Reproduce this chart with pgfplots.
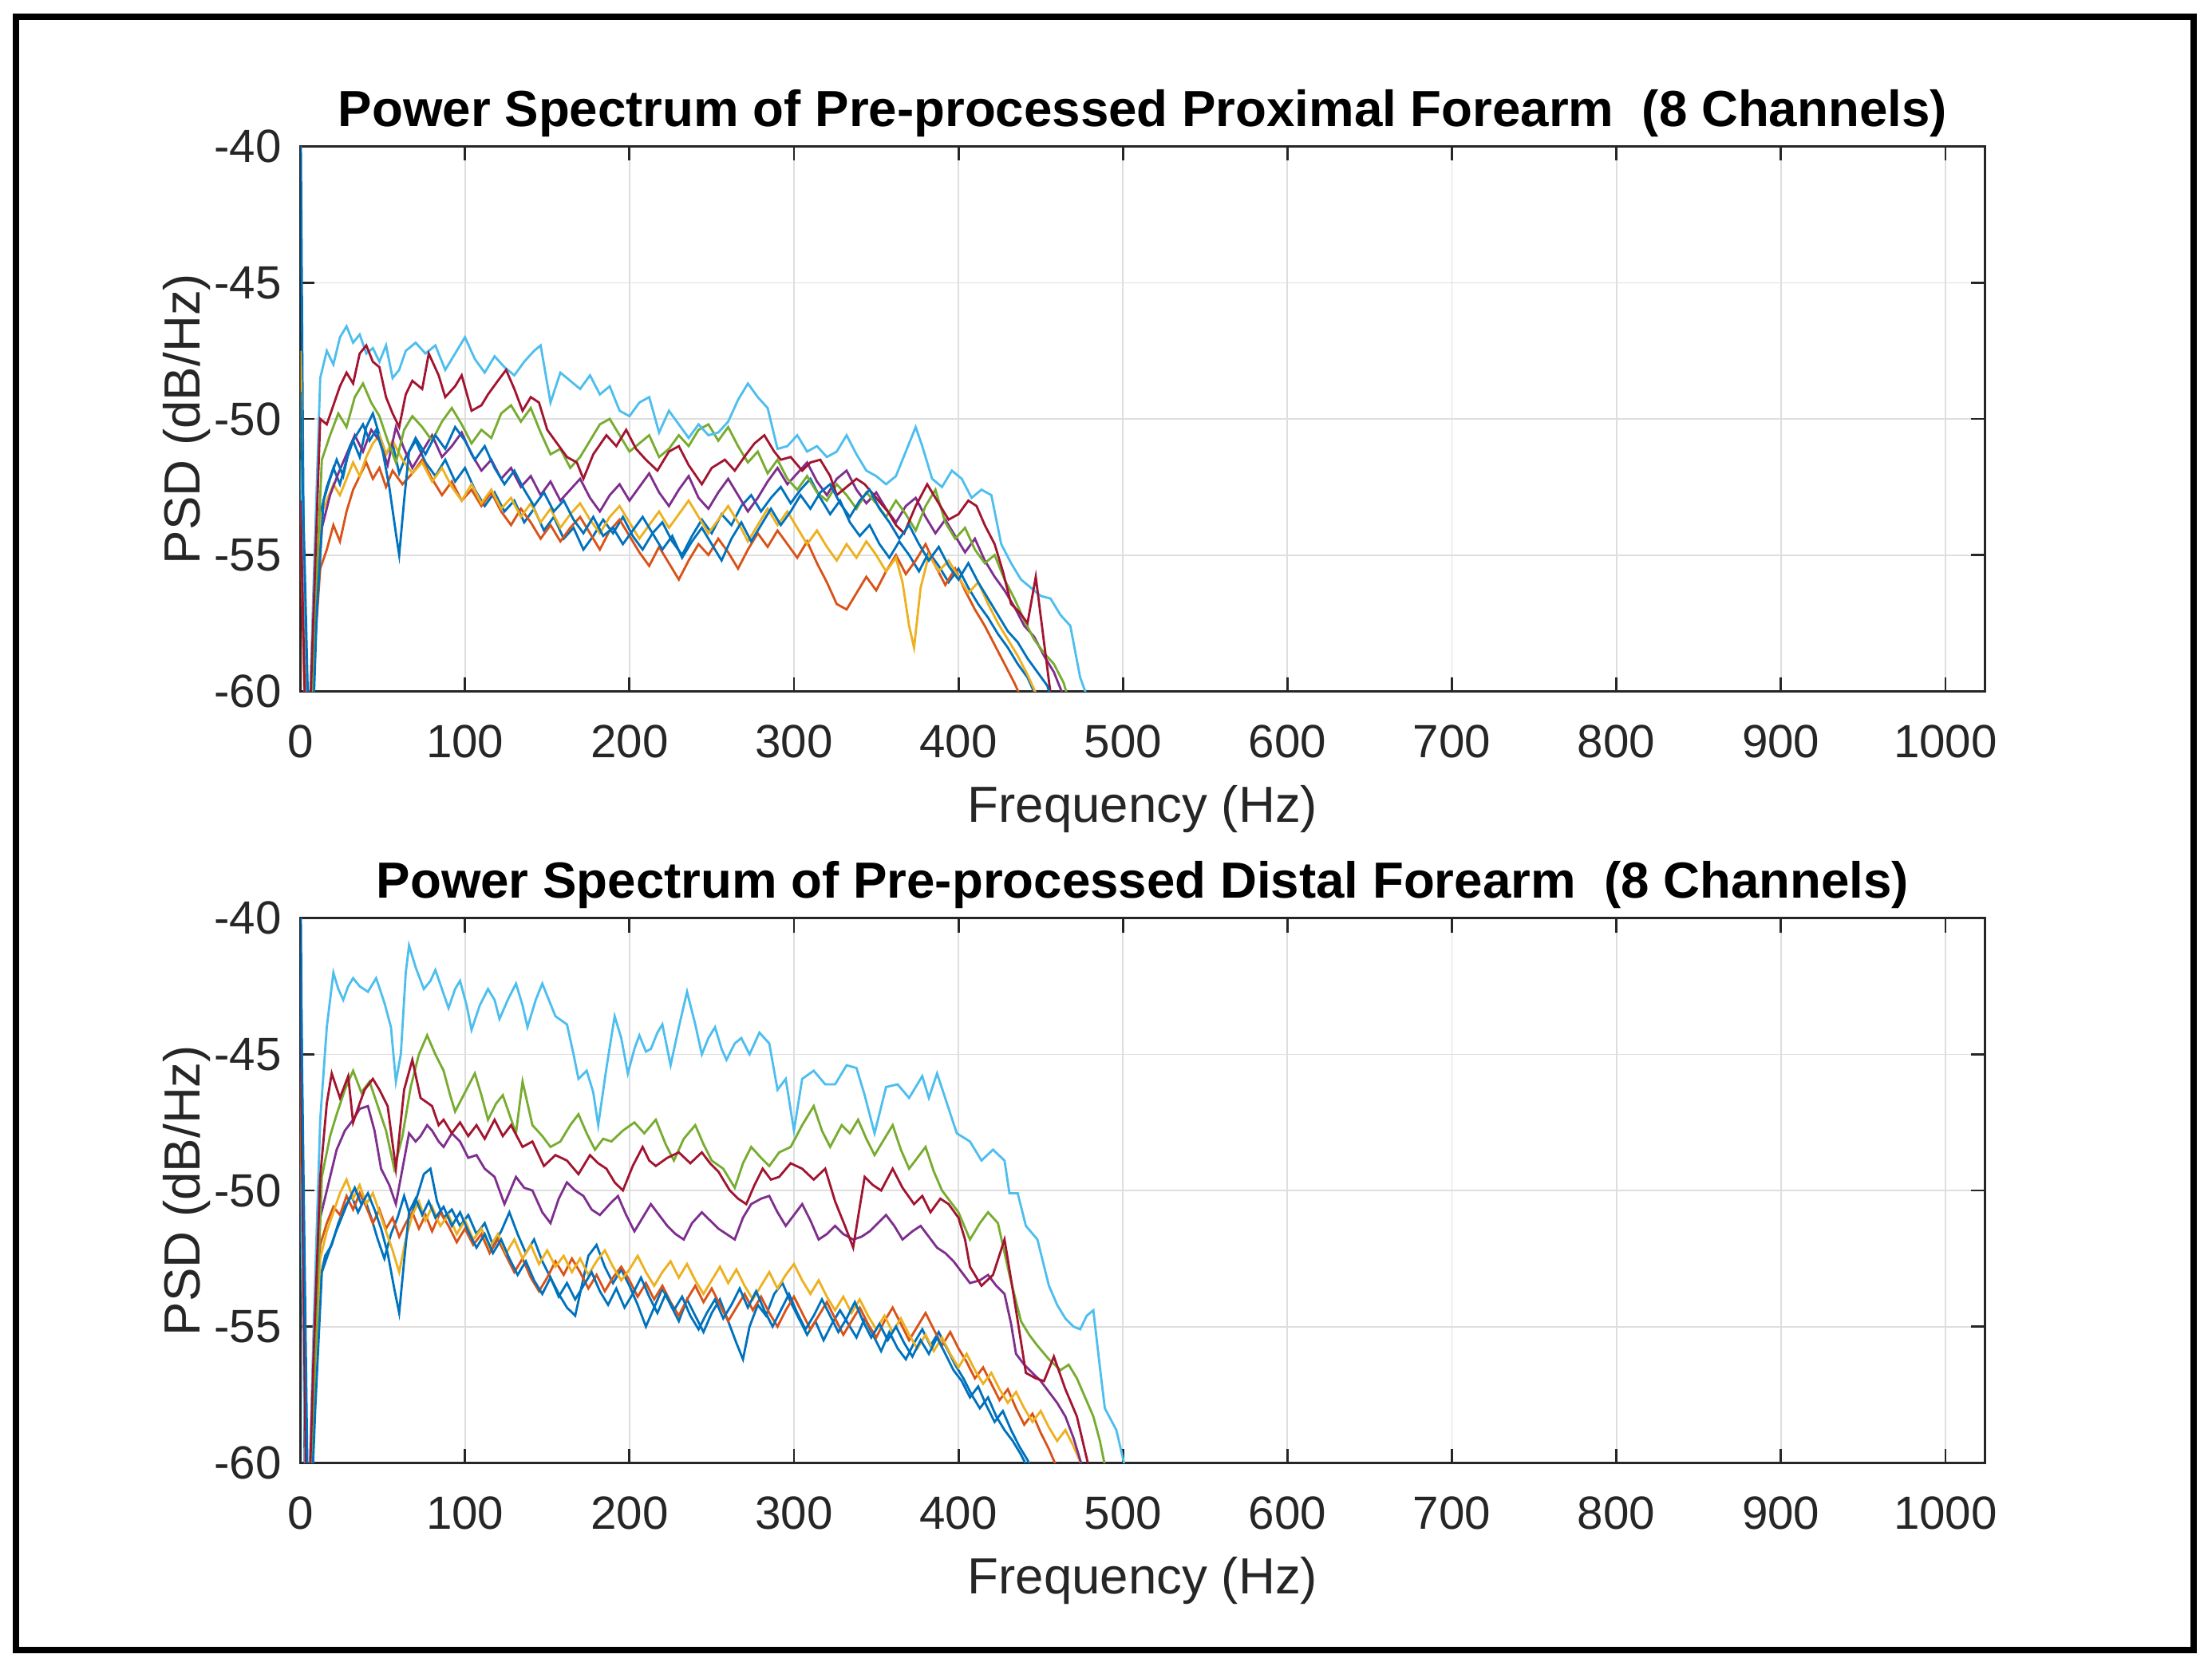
\documentclass[border=0pt]{standalone}
\usepackage{pgfplots}
\pgfplotsset{compat=1.18}
\usepackage{fontspec}
\setmainfont{Liberation Sans}
\definecolor{c1}{rgb}{0,0.447,0.741}
\definecolor{c2}{rgb}{0.85,0.325,0.098}
\definecolor{c3}{rgb}{0.929,0.694,0.125}
\definecolor{c4}{rgb}{0.494,0.184,0.556}
\definecolor{c5}{rgb}{0.466,0.674,0.188}
\definecolor{c6}{rgb}{0.301,0.745,0.933}
\definecolor{c7}{rgb}{0.635,0.078,0.184}
\definecolor{axgray}{rgb}{0.15,0.15,0.15}
\pgfplotsset{
  psd/.style={
    scale only axis, width=597pt, height=193pt,
    xmin=0, xmax=1024, ymin=-60, ymax=-40,
    xtick={0,100,200,300,400,500,600,700,800,900,1000},
    xticklabels={0,100,200,300,400,500,600,700,800,900,1000},
    ytick={-60,-55,-50,-45,-40},
    yticklabels={-60,-55,-50,-45,-40},
    xtick pos=both, ytick pos=both,
    tick align=inside, major tick length=5pt,
    grid=major, grid style={color=black!13, line width=0.5pt},
    axis line style={axgray, line width=0.8pt},
    tick style={axgray, line width=0.8pt},
    tick label style={font=\fontsize{16.5}{16.5}\selectfont, text=axgray},
    xticklabel style={anchor=base, yshift=-23.5pt},
    yticklabel style={anchor=east, inner sep=0pt, xshift=-6.5pt},
    xlabel={Frequency (Hz)}, ylabel={PSD (dB/Hz)},
    label style={font=\fontsize{18}{18}\selectfont, text=axgray},
    xlabel style={at={(axis description cs:0.5,0)}, anchor=base, yshift=-46.5pt},
    ylabel style={at={(axis description cs:-0.0595,0.5)}, anchor=base, rotate=0},
    every axis title shift=0pt,
    title style={font=\bfseries\fontsize{18}{18}\selectfont, at={(axis description cs:0.5,1)}, anchor=base, yshift=7.3pt},
    every axis plot/.append style={line width=0.8pt, no marks},
  }
}
\begin{document}
\begin{tikzpicture}
\path[use as bounding box, fill=white] (0,0) rectangle (784pt,590.5pt);
\draw[line width=2.3pt] (5.75pt,5.5pt) rectangle (777.5pt,584.5pt);

% ---------------- top: proximal ----------------
\begin{axis}[psd, at={(106.5pt,345.5pt)}, anchor=south west,
  title={Power Spectrum of Pre-processed Proximal Forearm \ (8 Channels)}]
% ch1 blue
\addplot[c1] coordinates {(0,-38) (3,-64) (8,-58) (12,-53.5) (16,-52.5) (20,-51.8) (24,-52.4) (28,-51.5) (32,-50.8) (36,-51.4) (40,-50.3) (44,-49.8) (48,-50.6) (52,-51.3) (56,-50.9) (60,-52.0) (64,-51.4) (70,-50.8) (76,-51.6) (82,-52.1) (88,-51.5) (94,-52.3) (100,-51.8) (106,-52.6) (112,-53.2) (118,-52.7) (124,-53.4) (130,-53.0) (136,-53.8) (142,-53.3) (148,-54.1) (154,-53.6) (160,-54.4) (166,-54.0) (172,-54.8) (178,-54.3) (184,-53.7) (190,-54.2) (196,-53.6) (202,-54.3) (208,-54.8) (214,-54.2) (220,-53.8) (226,-54.5) (232,-55.0) (238,-54.3) (244,-53.7) (250,-54.2) (256,-53.5) (262,-53.9) (268,-53.2) (274,-52.8) (280,-53.4) (286,-52.9) (292,-52.5) (298,-53.1) (304,-52.6) (310,-52.2) (316,-52.9) (322,-53.5) (328,-53.0) (334,-53.8) (340,-54.3) (346,-53.9) (352,-54.6) (358,-55.1) (364,-54.5) (370,-55.0) (376,-55.6) (382,-54.9) (388,-55.4) (394,-56.0) (400,-55.5) (406,-56.2) (412,-56.8) (418,-57.3) (424,-57.9) (430,-58.4) (436,-59.0) (442,-59.5) (448,-60.3) (454,-63)};
% ch2 orange
\addplot[c2] coordinates {(0,-54) (4,-64) (8,-59) (12,-55.5) (16,-54.8) (20,-53.9) (24,-54.5) (28,-53.4) (32,-52.6) (36,-52.1) (40,-51.6) (44,-52.2) (48,-51.8) (52,-52.5) (56,-51.9) (62,-52.4) (68,-52.0) (74,-51.5) (80,-52.2) (86,-52.8) (92,-52.3) (98,-53.0) (104,-52.6) (110,-53.2) (116,-52.7) (122,-53.4) (128,-53.9) (134,-53.3) (140,-53.8) (146,-54.4) (152,-53.9) (158,-54.5) (164,-54.0) (170,-53.6) (176,-54.2) (182,-54.8) (188,-54.1) (194,-53.7) (200,-54.3) (206,-54.9) (212,-55.4) (218,-54.7) (224,-55.3) (230,-55.9) (236,-55.2) (242,-54.6) (248,-55.0) (254,-54.4) (260,-54.9) (266,-55.5) (272,-54.8) (278,-54.2) (284,-54.7) (290,-54.1) (296,-54.6) (302,-55.1) (308,-54.5) (314,-55.3) (320,-56.0) (326,-56.8) (332,-57.0) (338,-56.4) (344,-55.8) (350,-56.3) (356,-55.6) (362,-55.0) (368,-55.7) (374,-55.2) (380,-54.6) (386,-55.4) (392,-56.1) (398,-55.5) (404,-56.3) (410,-57.0) (416,-57.6) (422,-58.3) (428,-59.0) (434,-59.7) (440,-60.5) (446,-63)};
% ch3 yellow
\addplot[c3] coordinates {(0,-47.5) (4,-64) (8,-58) (12,-53.6) (16,-53.0) (20,-52.4) (24,-52.8) (28,-52.2) (32,-51.6) (36,-52.1) (40,-51.4) (44,-50.9) (48,-50.6) (52,-51.3) (56,-50.8) (62,-51.5) (68,-52.0) (74,-51.6) (80,-52.3) (86,-51.8) (92,-52.5) (98,-53.0) (104,-52.4) (110,-53.1) (116,-52.6) (122,-53.3) (128,-52.9) (134,-53.6) (140,-53.1) (146,-53.8) (152,-53.3) (158,-54.0) (164,-53.5) (170,-53.1) (176,-53.7) (182,-54.2) (188,-53.6) (194,-53.2) (200,-53.8) (206,-54.4) (212,-53.9) (218,-53.4) (224,-54.0) (230,-53.5) (236,-53.0) (242,-53.6) (248,-54.2) (254,-53.7) (260,-53.2) (266,-53.8) (272,-54.5) (278,-53.9) (284,-53.3) (290,-53.9) (296,-53.4) (302,-54.0) (308,-54.6) (314,-54.1) (320,-54.7) (326,-55.2) (332,-54.6) (338,-55.1) (344,-54.5) (350,-55.0) (356,-55.6) (362,-55.1) (366,-56.0) (370,-57.6) (373,-58.4) (377,-56.2) (382,-55.0) (388,-55.6) (394,-55.2) (400,-55.8) (406,-56.4) (412,-56.0) (418,-56.8) (424,-57.5) (430,-58.1) (436,-58.7) (442,-59.4) (448,-60.2) (454,-63)};
% ch4 purple
\addplot[c4] coordinates {(0,-52) (5,-64) (9,-58) (13,-54) (18,-52.8) (23,-52.0) (28,-51.3) (33,-50.6) (38,-51.2) (43,-50.4) (48,-50.8) (53,-51.7) (58,-50.3) (63,-51.1) (68,-51.8) (74,-51.2) (80,-50.6) (86,-51.4) (92,-51.0) (98,-50.5) (104,-51.3) (110,-51.9) (116,-51.5) (122,-52.2) (128,-51.8) (134,-52.5) (140,-52.1) (146,-52.8) (152,-52.3) (158,-53.0) (164,-52.6) (170,-52.2) (176,-52.9) (182,-53.4) (188,-52.8) (194,-52.4) (200,-53.0) (206,-52.5) (212,-52.0) (218,-52.7) (224,-53.2) (230,-52.6) (236,-52.1) (242,-52.9) (248,-53.3) (254,-52.7) (260,-52.2) (266,-52.8) (272,-53.4) (278,-52.9) (284,-52.3) (290,-51.8) (296,-52.4) (302,-52.0) (308,-51.6) (314,-52.3) (320,-52.8) (326,-52.2) (332,-51.9) (338,-52.6) (344,-53.1) (350,-52.7) (356,-53.3) (362,-53.8) (368,-53.2) (374,-52.9) (380,-53.6) (386,-54.2) (392,-53.7) (398,-54.3) (404,-54.9) (410,-54.4) (416,-55.2) (422,-55.8) (428,-56.3) (434,-56.9) (440,-57.6) (446,-58.0) (452,-58.7) (458,-59.3) (464,-60.2) (470,-63)};
% ch5 green
\addplot[c5] coordinates {(0,-50.5) (5,-64) (9,-57) (13,-51.5) (18,-50.6) (23,-49.8) (28,-50.3) (33,-49.2) (38,-48.7) (43,-49.4) (48,-49.9) (53,-50.8) (58,-51.6) (63,-50.4) (68,-49.9) (74,-50.3) (80,-50.8) (86,-50.1) (92,-49.6) (98,-50.2) (104,-50.9) (110,-50.4) (116,-50.7) (122,-49.8) (128,-49.5) (134,-50.1) (140,-49.6) (146,-50.5) (152,-51.3) (158,-51.1) (164,-51.8) (170,-51.4) (176,-50.8) (182,-50.2) (188,-50.0) (194,-50.6) (200,-51.2) (206,-50.9) (212,-50.6) (218,-51.4) (224,-51.1) (230,-50.6) (236,-51.0) (242,-50.4) (248,-50.2) (254,-50.8) (260,-50.3) (266,-51.0) (272,-51.6) (278,-51.2) (284,-52.0) (290,-51.5) (296,-52.2) (302,-52.6) (308,-52.1) (314,-52.7) (320,-53.0) (326,-52.4) (332,-52.8) (338,-53.3) (344,-52.7) (350,-53.1) (356,-53.6) (362,-53.0) (368,-53.5) (374,-54.1) (380,-53.2) (386,-52.6) (392,-53.8) (398,-54.4) (404,-54.0) (410,-54.8) (416,-55.3) (422,-55.0) (428,-55.9) (434,-56.6) (440,-57.4) (446,-58.1) (452,-58.6) (458,-59.0) (464,-59.7) (470,-61) (476,-63)};
% ch6 light blue
\addplot[c6] coordinates {(0,-51.5) (4,-64) (8,-56) (12,-48.5) (16,-47.5) (20,-48) (24,-47) (28,-46.6) (32,-47.2) (36,-46.9) (40,-47.6) (44,-47.4) (48,-47.9) (52,-47.3) (56,-48.5) (60,-48.2) (64,-47.5) (70,-47.2) (76,-47.6) (82,-47.3) (88,-48.2) (94,-47.6) (100,-47) (106,-47.8) (112,-48.3) (118,-47.7) (124,-48.1) (130,-48.4) (136,-47.9) (142,-47.5) (146,-47.3) (152,-49.4) (158,-48.3) (164,-48.6) (170,-48.9) (176,-48.4) (182,-49.1) (188,-48.8) (194,-49.7) (200,-49.9) (206,-49.4) (212,-49.2) (218,-50.5) (224,-49.7) (230,-50.2) (236,-50.7) (242,-50.2) (248,-50.6) (254,-50.5) (260,-50.1) (266,-49.3) (272,-48.7) (278,-49.2) (284,-49.6) (290,-51.1) (296,-51) (302,-50.6) (308,-51.2) (314,-51.0) (320,-51.4) (326,-51.2) (332,-50.6) (338,-51.3) (344,-51.9) (350,-52.1) (356,-52.4) (362,-52.1) (368,-51.2) (374,-50.3) (378,-51.0) (384,-52.2) (390,-52.5) (396,-51.9) (402,-52.2) (408,-52.9) (414,-52.6) (420,-52.8) (426,-54.6) (432,-55.3) (438,-55.9) (444,-56.2) (450,-56.5) (456,-56.6) (462,-57.2) (468,-57.6) (474,-59.5) (480,-60.5) (486,-63)};
% ch7 dark red
\addplot[c7] coordinates {(0,-53) (4,-64) (8,-57) (12,-50) (16,-50.2) (20,-49.5) (24,-48.8) (28,-48.3) (32,-48.7) (36,-47.6) (40,-47.3) (44,-47.9) (48,-48.1) (52,-49.2) (56,-49.8) (60,-50.3) (64,-49.1) (68,-48.6) (74,-48.9) (78,-47.6) (84,-48.4) (88,-49.2) (94,-48.8) (98,-48.4) (104,-49.7) (110,-49.5) (114,-49.1) (120,-48.6) (125,-48.2) (130,-48.9) (135,-49.7) (140,-49.2) (145,-49.4) (150,-50.4) (156,-50.9) (162,-51.4) (168,-51.6) (172,-52.2) (178,-51.3) (186,-50.6) (192,-51.0) (198,-50.4) (204,-51.1) (210,-51.5) (217,-51.9) (224,-51.2) (230,-51.0) (236,-51.7) (244,-52.4) (250,-51.8) (258,-51.5) (264,-51.9) (271,-51.3) (276,-50.9) (282,-50.6) (288,-51.2) (292,-51.5) (298,-51.4) (305,-51.9) (310,-51.6) (316,-51.5) (322,-52.1) (326,-52.8) (332,-52.5) (338,-52.2) (343,-52.4) (350,-52.9) (357,-53.4) (362,-53.9) (367,-54.2) (374,-53.2) (381,-52.4) (388,-53.1) (394,-53.7) (400,-53.5) (406,-53.0) (411,-53.2) (416,-53.9) (422,-54.6) (427,-55.6) (432,-56.8) (437,-57.1) (442,-57.5) (447,-55.8) (452,-58.2) (456,-60.1) (462,-63)};
% ch8 blue
\addplot[c1] coordinates {(0,-49) (6,-64) (10,-57) (14,-53.0) (18,-52.2) (22,-51.5) (26,-52.1) (30,-51.0) (34,-50.6) (38,-50.2) (42,-50.8) (46,-50.4) (50,-51.2) (54,-52.5) (58,-54.2) (60,-55.0) (63,-53.0) (66,-51.2) (70,-50.7) (76,-51.3) (82,-50.6) (88,-51.1) (94,-50.3) (100,-50.8) (106,-51.5) (112,-51.0) (118,-51.8) (124,-52.4) (130,-51.9) (136,-52.6) (142,-53.2) (148,-52.7) (154,-53.4) (160,-53.0) (166,-53.7) (172,-54.2) (178,-53.6) (184,-54.3) (190,-54.0) (196,-54.6) (202,-54.1) (208,-53.6) (214,-54.2) (220,-54.8) (226,-54.3) (232,-55.1) (238,-54.5) (244,-54.0) (250,-54.6) (256,-55.2) (262,-54.4) (268,-53.8) (274,-54.5) (280,-53.9) (286,-53.3) (292,-53.9) (298,-53.4) (304,-52.8) (310,-53.3) (316,-52.7) (322,-52.4) (328,-53.1) (334,-53.6) (340,-53.0) (346,-52.6) (352,-53.3) (358,-53.8) (364,-54.4) (370,-53.9) (376,-54.6) (382,-55.2) (388,-54.7) (394,-55.4) (400,-55.9) (406,-55.3) (412,-56.0) (418,-56.6) (424,-57.2) (430,-57.8) (436,-58.2) (442,-58.8) (448,-59.3) (454,-59.8) (460,-61) (466,-63)};
\end{axis}

% ---------------- bottom: distal ----------------
\begin{axis}[psd, at={(106.5pt,72pt)}, anchor=south west,
  title={Power Spectrum of Pre-processed Distal Forearm \ (8 Channels)}]
% ch1 blue
\addplot[c1] coordinates {(0,-38) (3,-64) (7,-60) (11,-53.5) (15,-52.4) (19,-52.0) (23,-51.2) (27,-50.6) (31,-50.2) (35,-50.8) (39,-50.3) (43,-51.0) (47,-51.8) (51,-52.5) (55,-51.6) (59,-51.0) (63,-50.2) (67,-51.0) (71,-50.2) (75,-49.4) (79,-49.2) (83,-50.4) (87,-51.0) (92,-50.7) (97,-51.3) (102,-50.9) (107,-51.6) (112,-51.2) (117,-52.0) (122,-51.5) (127,-50.8) (132,-51.6) (137,-52.3) (142,-51.8) (147,-52.6) (152,-53.2) (157,-53.8) (162,-54.3) (167,-54.6) (171,-53.5) (175,-52.4) (180,-52.0) (185,-52.8) (190,-53.4) (195,-52.9) (200,-53.5) (205,-54.2) (210,-55.0) (215,-54.3) (220,-53.6) (225,-54.2) (230,-54.8) (235,-54.0) (240,-54.6) (245,-55.2) (250,-54.5) (255,-54.0) (260,-54.8) (265,-55.6) (269,-56.2) (273,-55.0) (278,-54.2) (283,-54.6) (288,-53.8) (293,-53.4) (298,-54.1) (303,-54.7) (308,-55.3) (313,-54.8) (318,-55.5) (323,-54.9) (328,-54.4) (333,-54.9) (338,-55.4) (343,-54.7) (348,-55.3) (353,-55.9) (358,-55.2) (363,-55.8) (368,-56.2) (373,-55.6) (378,-55.1) (383,-55.7) (388,-55.2) (393,-55.8) (398,-56.4) (403,-56.9) (408,-57.5) (413,-58.0) (418,-57.6) (423,-58.3) (428,-58.8) (433,-59.2) (438,-59.7) (443,-60.3) (448,-63)};
% ch2 orange
\addplot[c2] coordinates {(0,-45.5) (4,-64) (8,-57) (12,-52.0) (16,-51.2) (20,-50.6) (24,-50.9) (28,-50.2) (32,-50.7) (36,-50.1) (40,-50.6) (44,-51.2) (48,-50.7) (52,-51.4) (56,-51.0) (60,-51.7) (64,-51.2) (68,-50.8) (72,-51.4) (76,-50.9) (80,-51.5) (85,-50.8) (90,-51.3) (95,-51.9) (100,-51.4) (105,-52.0) (110,-51.6) (115,-52.3) (120,-51.8) (125,-52.4) (130,-53.0) (135,-52.5) (140,-53.2) (145,-53.7) (150,-53.2) (155,-52.6) (160,-53.1) (165,-52.5) (170,-53.0) (175,-53.6) (180,-53.1) (185,-53.7) (190,-53.2) (195,-52.8) (200,-53.3) (205,-53.9) (210,-53.4) (215,-54.0) (220,-53.5) (225,-54.1) (230,-54.6) (235,-54.0) (240,-53.5) (245,-54.1) (250,-53.6) (255,-54.2) (260,-54.8) (265,-54.3) (270,-53.8) (275,-54.4) (280,-53.9) (285,-54.5) (290,-55.0) (295,-54.4) (300,-53.9) (305,-54.5) (310,-55.1) (315,-54.6) (320,-54.1) (325,-54.7) (330,-55.3) (335,-54.8) (340,-54.3) (345,-54.9) (350,-55.4) (355,-54.8) (360,-54.3) (365,-54.9) (370,-55.5) (375,-55.0) (380,-54.5) (385,-55.1) (390,-55.7) (395,-55.2) (400,-55.8) (405,-56.3) (410,-56.9) (415,-56.5) (420,-57.1) (425,-57.7) (430,-57.3) (435,-58.0) (440,-58.6) (445,-58.2) (450,-58.9) (455,-59.5) (460,-60.2) (465,-63)};
% ch3 yellow
\addplot[c3] coordinates {(0,-47) (4,-64) (8,-58) (12,-52.5) (16,-51.5) (20,-50.8) (24,-50.1) (28,-49.6) (32,-50.3) (36,-49.8) (40,-50.5) (44,-50.1) (48,-50.8) (52,-51.5) (56,-52.2) (60,-53.0) (64,-51.8) (68,-50.9) (72,-50.4) (76,-51.1) (80,-50.6) (85,-51.3) (90,-50.9) (95,-51.6) (100,-51.1) (105,-51.8) (110,-51.4) (115,-52.1) (120,-51.6) (125,-52.3) (130,-51.8) (135,-52.5) (140,-52.0) (145,-52.7) (150,-52.2) (155,-52.8) (160,-52.4) (165,-53.0) (170,-52.5) (175,-53.1) (180,-52.6) (185,-52.2) (190,-52.8) (195,-53.3) (200,-52.9) (205,-52.4) (210,-53.0) (215,-53.5) (220,-53.0) (225,-52.6) (230,-53.2) (235,-52.7) (240,-53.3) (245,-53.8) (250,-53.3) (255,-52.8) (260,-53.4) (265,-52.9) (270,-53.5) (275,-54.0) (280,-53.5) (285,-53.0) (290,-53.6) (295,-53.1) (300,-52.7) (305,-53.3) (310,-53.8) (315,-53.3) (320,-53.9) (325,-54.4) (330,-53.9) (335,-54.5) (340,-54.0) (345,-54.6) (350,-55.1) (355,-54.6) (360,-55.2) (365,-54.7) (370,-55.3) (375,-55.8) (380,-55.3) (385,-55.9) (390,-55.4) (395,-56.0) (400,-56.5) (405,-56.0) (410,-56.6) (415,-57.1) (420,-56.7) (425,-57.3) (430,-57.8) (435,-57.4) (440,-58.0) (445,-58.5) (450,-58.1) (455,-58.7) (460,-59.2) (465,-58.8) (470,-59.4) (475,-60.1) (480,-63)};
% ch4 purple
\addplot[c4] coordinates {(0,-42) (4,-64) (8,-56) (12,-51) (16,-50.0) (22,-48.5) (27,-47.8) (32,-47.4) (36,-47.0) (41,-46.9) (45,-47.8) (49,-49.2) (54,-49.8) (58,-50.5) (62,-49.2) (66,-47.9) (70,-48.2) (73,-48.0) (77,-47.6) (80,-47.8) (84,-48.2) (87,-48.4) (92,-47.9) (97,-48.2) (102,-48.8) (107,-48.7) (112,-49.2) (118,-49.5) (124,-50.5) (131,-49.5) (136,-49.9) (141,-50.0) (147,-50.8) (152,-51.2) (157,-50.3) (162,-49.7) (167,-50.0) (172,-50.2) (177,-50.7) (182,-50.9) (188,-50.5) (193,-50.2) (198,-50.9) (203,-51.5) (208,-51.0) (213,-50.5) (218,-50.9) (223,-51.3) (228,-51.6) (233,-51.8) (238,-51.2) (244,-50.8) (249,-51.1) (254,-51.4) (259,-51.6) (264,-51.8) (269,-51.0) (274,-50.5) (280,-50.3) (285,-50.2) (290,-50.8) (295,-51.3) (300,-50.9) (305,-50.5) (310,-51.1) (315,-51.8) (320,-51.6) (325,-51.3) (330,-51.6) (336,-51.8) (341,-51.7) (346,-51.5) (351,-51.2) (356,-50.9) (361,-51.3) (366,-51.8) (372,-51.5) (377,-51.3) (382,-51.7) (387,-52.1) (392,-52.3) (397,-52.6) (402,-53.0) (407,-53.4) (413,-53.3) (418,-53.1) (423,-53.5) (428,-53.8) (432,-54.9) (435,-56.0) (440,-56.4) (445,-56.7) (450,-57.0) (455,-57.4) (460,-57.8) (465,-58.3) (470,-59.1) (475,-60.1) (481,-63)};
% ch5 green
\addplot[c5] coordinates {(0,-46) (5,-64) (9,-56) (13,-49.5) (18,-48.0) (22,-47.2) (27,-46.3) (32,-45.6) (37,-46.4) (42,-46.0) (47,-46.9) (52,-47.8) (57,-49.2) (62,-48.0) (67,-46.2) (72,-45.0) (77,-44.3) (82,-45.0) (87,-45.6) (91,-46.5) (94,-47.1) (100,-46.4) (106,-45.7) (110,-46.5) (114,-47.4) (119,-46.8) (123,-46.5) (127,-47.2) (131,-47.9) (135,-46.0) (138,-46.8) (141,-47.6) (147,-48.0) (152,-48.4) (158,-48.2) (164,-47.6) (169,-47.2) (174,-47.9) (179,-48.5) (184,-48.1) (189,-48.2) (196,-47.8) (203,-47.5) (209,-47.9) (216,-47.4) (222,-48.3) (227,-48.9) (233,-48.1) (240,-47.6) (245,-48.3) (250,-48.9) (257,-49.2) (264,-49.9) (269,-49.0) (274,-48.4) (280,-48.8) (285,-49.1) (291,-48.6) (298,-48.4) (305,-47.6) (312,-46.9) (317,-47.8) (322,-48.4) (329,-47.6) (334,-47.9) (339,-47.4) (344,-48.1) (349,-48.7) (355,-48.1) (360,-47.6) (365,-48.5) (370,-49.2) (375,-48.8) (380,-48.4) (385,-49.3) (390,-50.0) (395,-50.4) (400,-50.8) (407,-51.8) (413,-51.2) (418,-50.8) (424,-51.2) (431,-53.1) (438,-54.8) (443,-55.3) (448,-55.7) (455,-56.2) (462,-56.6) (467,-56.4) (472,-56.9) (477,-57.6) (482,-58.3) (486,-59.2) (489,-60.1) (494,-63)};
% ch6 light blue
\addplot[c6] coordinates {(0,-49) (4,-64) (8,-55) (12,-47.4) (16,-44.0) (20,-42.0) (23,-42.6) (26,-43.0) (29,-42.5) (32,-42.2) (36,-42.5) (41,-42.7) (44,-42.4) (46,-42.2) (51,-43.1) (55,-44.0) (58,-46.0) (61,-45.0) (64,-42.0) (66,-41.0) (70,-41.8) (75,-42.6) (79,-42.3) (82,-41.9) (86,-42.6) (90,-43.3) (94,-42.6) (97,-42.3) (101,-43.2) (104,-44.1) (109,-43.2) (114,-42.6) (118,-43.0) (121,-43.7) (126,-43.0) (131,-42.4) (135,-43.2) (138,-44.0) (143,-43.0) (147,-42.4) (151,-43.0) (155,-43.6) (162,-43.9) (166,-45.0) (169,-45.9) (174,-45.6) (178,-46.4) (181,-47.6) (186,-45.5) (191,-43.6) (195,-44.4) (199,-45.7) (203,-44.8) (206,-44.3) (210,-44.9) (213,-44.8) (217,-44.2) (220,-43.9) (225,-45.4) (230,-44.0) (235,-42.7) (240,-43.9) (244,-45.0) (248,-44.4) (252,-44.0) (256,-44.8) (259,-45.2) (264,-44.6) (268,-44.4) (273,-45.0) (279,-44.2) (285,-44.6) (290,-46.3) (295,-45.9) (300,-47.8) (305,-45.9) (312,-45.6) (319,-46.1) (325,-46.1) (332,-45.4) (338,-45.5) (343,-46.5) (349,-47.9) (356,-46.2) (363,-46.1) (370,-46.6) (378,-45.8) (382,-46.6) (387,-45.7) (393,-46.8) (399,-47.9) (407,-48.2) (414,-48.9) (421,-48.5) (428,-48.9) (431,-50.1) (436,-50.1) (441,-51.3) (448,-51.8) (455,-53.5) (460,-54.2) (465,-54.7) (470,-55.0) (474,-55.1) (478,-54.6) (482,-54.4) (486,-56.5) (489,-58.0) (496,-58.8) (501,-60.1) (506,-63)};
% ch7 dark red
\addplot[c7] coordinates {(0,-44) (4,-64) (8,-56) (12,-49.5) (16,-46.8) (19,-45.7) (24,-46.6) (29,-45.8) (32,-47.5) (36,-46.8) (39,-46.3) (44,-45.9) (48,-46.3) (53,-46.9) (58,-49.2) (63,-46.3) (68,-45.2) (73,-46.6) (80,-46.9) (84,-47.6) (87,-47.4) (92,-47.9) (97,-47.5) (102,-48.0) (107,-47.6) (112,-48.1) (118,-47.4) (123,-48.0) (128,-47.6) (135,-48.4) (141,-48.2) (148,-49.1) (155,-48.7) (162,-48.9) (169,-49.4) (176,-48.7) (181,-49.0) (186,-49.2) (191,-49.7) (196,-50.0) (202,-49.1) (208,-48.4) (212,-48.9) (216,-49.1) (223,-48.8) (230,-48.6) (237,-49.0) (244,-48.6) (249,-49.0) (254,-49.3) (261,-50.0) (266,-50.3) (271,-50.5) (276,-49.8) (281,-49.2) (286,-49.6) (291,-49.5) (298,-49.0) (305,-49.2) (312,-49.6) (319,-49.2) (325,-50.4) (331,-51.3) (336,-52.1) (340,-50.6) (343,-49.5) (348,-49.8) (353,-50.0) (360,-49.2) (366,-49.9) (373,-50.5) (378,-50.2) (383,-50.8) (389,-50.3) (394,-50.5) (400,-51.0) (404,-51.8) (407,-52.8) (414,-53.5) (421,-53.1) (428,-51.8) (431,-52.9) (435,-54.4) (441,-56.7) (447,-56.9) (452,-57.0) (458,-56.1) (465,-57.3) (472,-58.3) (479,-60.1) (485,-63)};
% ch8 blue
\addplot[c1] coordinates {(0,-41) (5,-64) (9,-58) (13,-53.0) (17,-52.3) (21,-51.6) (25,-51.0) (29,-50.4) (33,-49.9) (37,-50.5) (41,-50.1) (45,-50.7) (49,-51.4) (53,-52.3) (57,-53.6) (60,-54.5) (63,-52.6) (66,-50.8) (70,-50.3) (74,-50.9) (78,-50.4) (82,-51.0) (87,-50.6) (92,-51.3) (97,-50.8) (102,-51.5) (107,-52.1) (112,-51.6) (117,-52.3) (122,-51.8) (127,-52.5) (132,-53.1) (137,-52.6) (142,-53.3) (147,-53.8) (152,-53.2) (157,-53.9) (162,-53.4) (167,-54.0) (172,-53.5) (177,-53.0) (182,-53.7) (187,-54.2) (192,-53.6) (197,-54.3) (202,-53.8) (207,-53.2) (212,-53.9) (217,-54.5) (222,-53.8) (227,-54.4) (232,-53.9) (237,-54.6) (242,-55.1) (247,-54.5) (252,-54.0) (257,-54.7) (262,-54.2) (267,-53.6) (272,-54.3) (277,-53.7) (282,-54.4) (287,-55.0) (292,-54.4) (297,-53.8) (302,-54.5) (307,-55.1) (312,-54.6) (317,-54.0) (322,-54.6) (327,-55.2) (332,-54.7) (337,-54.1) (342,-54.8) (347,-55.4) (352,-54.9) (357,-55.5) (362,-55.0) (367,-55.6) (372,-56.1) (377,-55.5) (382,-56.0) (387,-55.4) (392,-56.0) (397,-56.6) (402,-57.0) (407,-57.6) (412,-57.2) (417,-57.9) (422,-58.5) (427,-58.1) (432,-58.8) (437,-59.4) (442,-59.9) (447,-60.5) (452,-63)};
\end{axis}
\end{tikzpicture}
\end{document}
